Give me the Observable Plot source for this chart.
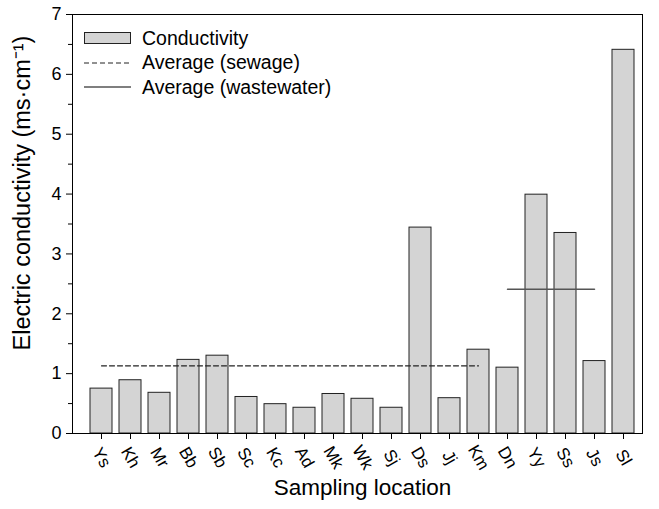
<!DOCTYPE html>
<html>
<head>
<meta charset="utf-8">
<script src="https://cdn.jsdelivr.net/npm/d3@7"></script>
<script src="https://cdn.jsdelivr.net/npm/@observablehq/plot@0.6"></script>
<style>
  body { margin: 0; background: #fff; font-family: Arial, "Liberation Sans", sans-serif; }
  #wrap { position: relative; width: 659px; height: 509px; }
  #legend { position: absolute; left: 84px; top: 26px; font-size: 19.5px; color: #000; }
  #legend .row { position: relative; height: 24.5px; display: flex; align-items: center; }
  #legend svg { width: 48px; height: 14px; margin-right: 10px; flex: none; }
</style>
</head>
<body>
<div id="wrap">
  <div id="chart"></div>
  <div id="legend">
    <div class="row"><svg><rect x="0.5" y="1.5" width="46" height="11" fill="#d4d4d4" stroke="#222"/></svg>Conductivity</div>
    <div class="row"><svg><line x1="0" x2="47" y1="7" y2="7" stroke="#222" stroke-dasharray="5,3"/></svg>Average (sewage)</div>
    <div class="row"><svg><line x1="0" x2="47" y1="7" y2="7" stroke="#555" stroke-width="1.5"/></svg>Average (wastewater)</div>
  </div>
</div>
<script>
const locations = ["Ys","Kh","Mr","Bb","Sb","Sc","Kc","Ad","Mk","Wk","Sj","Ds","Jj","Km","Dn","Yy","Ss","Js","Sl"];
const conductivity = [0.75,0.89,0.68,1.23,1.30,0.61,0.49,0.43,0.66,0.58,0.43,3.44,0.59,1.40,1.10,3.99,3.35,1.21,6.41];
const sewageAvg = 1.13;
const sewageRange = ["Ys","Km"];
const wastewaterAvg = 2.41;
const wastewaterRange = ["Dn","Js"];
const yTicks = [0,1,2,3,4,5,6,7];
const yMinorTicks = [0.5,1.5,2.5,3.5,4.5,5.5,6.5];

const bars = locations.map((loc, i) => ({loc, value: conductivity[i]}));
const sewageLine = sewageRange.map(loc => ({loc, value: sewageAvg}));
const wasteLine = wastewaterRange.map(loc => ({loc, value: wastewaterAvg}));

const chart = Plot.plot({
  width: 659,
  height: 509,
  marginLeft: 72,
  marginRight: 17,
  marginTop: 14,
  marginBottom: 76,
  style: {fontFamily: "Arial, 'Liberation Sans', sans-serif", color: "#000", background: "#fff"},
  x: {type: "band", domain: locations, range: [76.4, 648], padding: 0.25, label: null},
  y: {domain: [0, 7], label: null},
  marks: [
    Plot.barY(bars, {x: "loc", y: "value", fill: "#d4d4d4", stroke: "#222", strokeWidth: 1}),
    Plot.lineY(sewageLine, {x: "loc", y: "value", stroke: "#222", strokeWidth: 1.2, strokeDasharray: "5,3"}),
    Plot.lineY(wasteLine, {x: "loc", y: "value", stroke: "#555", strokeWidth: 1.5}),
    Plot.frame({stroke: "#000", strokeWidth: 1}),
    Plot.axisY({ticks: yTicks, tickSize: 6, tickPadding: 5, fontSize: 18, label: null, tickFormat: d => d}),
    Plot.axisY({ticks: yMinorTicks, tickSize: 4, tickFormat: () => "", label: null}),
    Plot.axisX({tickSize: 6, tickPadding: 18, tickRotate: 60, textAnchor: "middle", lineAnchor: "middle", fontSize: 17, label: null}),
    Plot.text(["Electric conductivity (ms·cm\u207B\u00B9)"], {frameAnchor: "left", textAnchor: "middle", rotate: -90, dx: -50, dy: -31, fontSize: 23.5}),
    Plot.text(["Sampling location"], {frameAnchor: "bottom", dx: 5, dy: 61, fontSize: 22.5})
  ]
});
document.getElementById("chart").appendChild(chart);
</script>
</body>
</html>
